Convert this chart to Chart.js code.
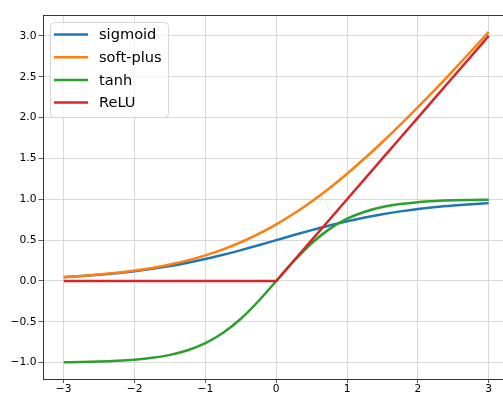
<!DOCTYPE html>
<html>
<head>
<meta charset="utf-8">
<script src="https://cdn.jsdelivr.net/npm/chart.js@4/dist/chart.umd.min.js"></script>
<style>
  html, body { margin: 0; padding: 0; background: #ffffff; overflow: hidden; }
  #wrap { position: absolute; left: 0; top: 0; }
</style>
</head>
<body>
<div id="wrap"><canvas id="activations" width="510" height="394"></canvas></div>
<script>
// sample points along x
const xValues = [-3, -2.75, -2.5, -2.25, -2, -1.75, -1.5, -1.25, -1, -0.75, -0.5, -0.25, 0,
                 0.25, 0.5, 0.75, 1, 1.25, 1.5, 1.75, 2, 2.25, 2.5, 2.75, 3];

// values
const sigmoidValues = [0.047, 0.060, 0.076, 0.095, 0.119, 0.148, 0.182, 0.223, 0.269, 0.321, 0.378, 0.438, 0.500,
                       0.562, 0.622, 0.679, 0.731, 0.777, 0.818, 0.852, 0.881, 0.905, 0.924, 0.940, 0.953];
const softplusValues = [0.049, 0.062, 0.079, 0.100, 0.127, 0.160, 0.201, 0.252, 0.313, 0.386, 0.474, 0.576, 0.693,
                        0.826, 0.974, 1.136, 1.313, 1.502, 1.701, 1.910, 2.127, 2.350, 2.579, 2.812, 3.049];
const tanhValues = [-0.995, -0.992, -0.987, -0.978, -0.964, -0.941, -0.905, -0.848, -0.762, -0.635, -0.462, -0.245, 0.000,
                    0.245, 0.462, 0.635, 0.762, 0.848, 0.905, 0.941, 0.964, 0.978, 0.987, 0.992, 0.995];
const reluValues = [0, 0, 0, 0, 0, 0, 0, 0, 0, 0, 0, 0, 0,
                    0.25, 0.5, 0.75, 1, 1.25, 1.5, 1.75, 2, 2.25, 2.5, 2.75, 3];

const seriesLabels = ['sigmoid', 'soft-plus', 'tanh', 'ReLU'];
const seriesColors = ['#1f77b4', '#ff7f0e', '#2ca02c', '#d62728'];
// ReLU is piecewise straight, the others are smooth
const seriesSmooth = [true, true, true, false];

// tick labels
const xTicks = [-3, -2, -1, 0, 1, 2, 3];
const yTicks = [-1.0, -0.5, 0.0, 0.5, 1.0, 1.5, 2.0, 2.5, 3.0];

const FONT = "'DejaVu Sans', sans-serif";
const minus = s => s.replace('-', '\u2212');

function toPoints(ys) {
    return xValues.map((x, i) => ({ x, y: ys[i] }));
}

const allSeries = [sigmoidValues, softplusValues, tanhValues, reluValues];

// matplotlib-like frame + legend box
const mplFrame = {
    id: 'mplFrame',
    afterDatasetsDraw(chart) {
        const { ctx, chartArea: a } = chart;
        ctx.save();
        ctx.strokeStyle = '#333333';
        ctx.lineWidth = 1;
        ctx.strokeRect(Math.round(a.left) + 0.5, Math.round(a.top) + 0.5,
                       Math.round(a.right - a.left), Math.round(a.bottom - a.top));
        ctx.restore();
    },
    afterDraw(chart) {
        const ctx = chart.ctx;
        const bx = 50.5, by = 22.5, bw = 118, bh = 95, r = 4;
        ctx.save();
        ctx.beginPath();
        ctx.moveTo(bx + r, by);
        ctx.arcTo(bx + bw, by, bx + bw, by + bh, r);
        ctx.arcTo(bx + bw, by + bh, bx, by + bh, r);
        ctx.arcTo(bx, by + bh, bx, by, r);
        ctx.arcTo(bx, by, bx + bw, by, r);
        ctx.closePath();
        ctx.fillStyle = 'rgba(255,255,255,0.8)';
        ctx.fill();
        ctx.strokeStyle = '#d6d6d6';
        ctx.lineWidth = 1;
        ctx.stroke();

        ctx.font = '14.6px ' + FONT;
        ctx.textBaseline = 'middle';
        ctx.fillStyle = '#000000';
        chart.data.datasets.forEach((ds, i) => {
            const y = 34.5 + i * 22.7;
            ctx.beginPath();
            ctx.moveTo(54, y);
            ctx.lineTo(88, y);
            ctx.strokeStyle = ds.borderColor;
            ctx.lineWidth = 2.5;
            ctx.stroke();
            ctx.fillText(ds.label, 99, y + 1);
        });
        ctx.restore();
    }
};

const ctx = document.getElementById('activations').getContext('2d');
new Chart(ctx, {
    type: 'line',
    data: {
        datasets: seriesLabels.map((label, i) => ({
            label,
            data: toPoints(allSeries[i]),
            borderColor: seriesColors[i],
            backgroundColor: seriesColors[i],
            borderWidth: 2.5,
            pointRadius: 0,
            fill: false,
            cubicInterpolationMode: seriesSmooth[i] ? 'monotone' : 'default',
            tension: 0,
            order: seriesLabels.length - 1 - i
        }))
    },
    options: {
        responsive: false,
        animation: false,
        layout: { padding: { top: 15, right: 0, bottom: 0, left: 0 } },
        plugins: {
            legend: { display: false },
            tooltip: { enabled: false }
        },
        scales: {
            x: {
                type: 'linear',
                min: -3.3,
                max: 3.3,
                afterBuildTicks: s => { s.ticks = xTicks.map(v => ({ value: v })); },
                afterFit: s => { s.height = 15; },
                grid: { color: '#d0d0d0', lineWidth: 0.8, tickColor: '#333333', tickLength: 4, drawTicks: true },
                border: { display: false },
                ticks: {
                    padding: 0,
                    maxRotation: 0,
                    color: '#000000',
                    font: { family: FONT, size: 10.7 },
                    callback: v => minus(String(v))
                }
            },
            y: {
                type: 'linear',
                min: -1.2,
                max: 3.256,
                afterBuildTicks: s => { s.ticks = yTicks.map(v => ({ value: v })); },
                afterFit: s => { s.width = 42.5; },
                grid: { color: '#d0d0d0', lineWidth: 0.8, tickColor: '#333333', tickLength: 4, drawTicks: true },
                border: { display: false },
                ticks: {
                    padding: 2,
                    color: '#000000',
                    font: { family: FONT, size: 10.7 },
                    callback: v => minus(v.toFixed(1))
                }
            }
        }
    },
    plugins: [mplFrame]
});
</script>
</body>
</html>
